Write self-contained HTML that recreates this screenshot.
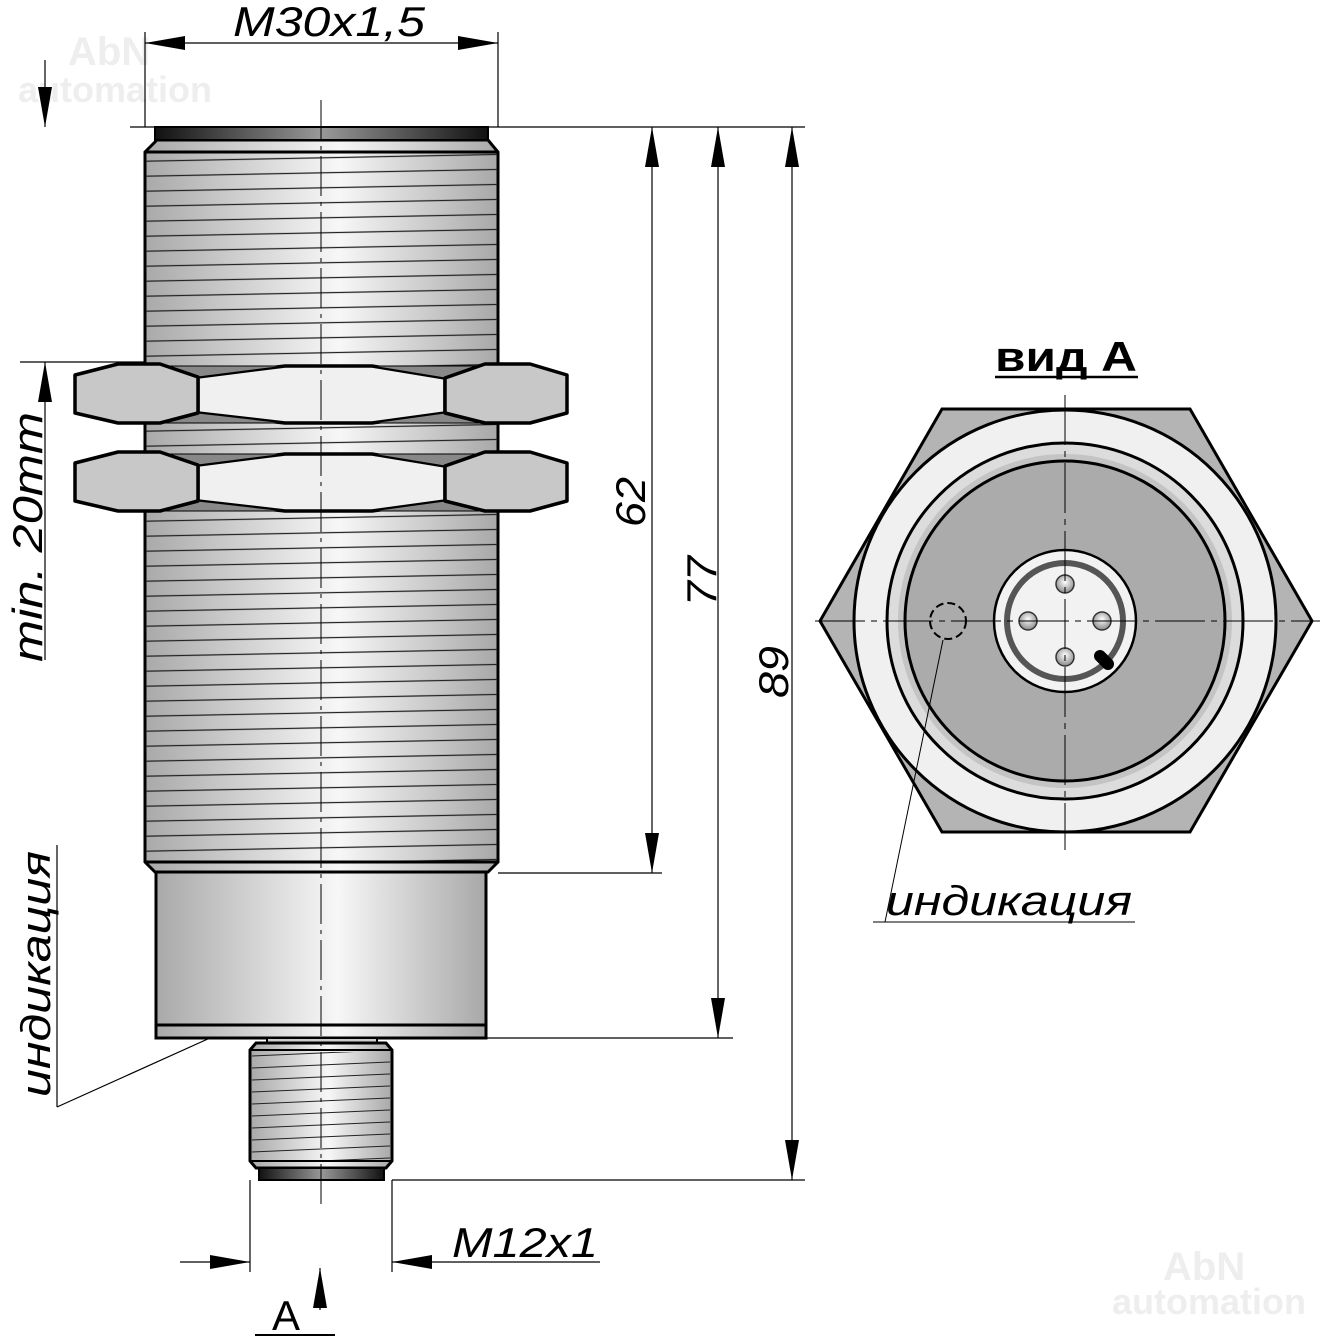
<!DOCTYPE html>
<html><head><meta charset="utf-8"><style>
html,body{margin:0;padding:0;background:#fff}
svg{display:block}
text{font-family:"Liberation Sans",sans-serif}
</style></head><body>
<svg width="1327" height="1339" viewBox="0 0 1327 1339" xmlns="http://www.w3.org/2000/svg">
<defs>
<linearGradient id="cyl" x1="0" x2="1" y1="0" y2="0">
<stop offset="0" stop-color="#a9a9a9"/><stop offset="0.55" stop-color="#f7f7f7"/><stop offset="1" stop-color="#a8a8a8"/>
</linearGradient>
<linearGradient id="cap" x1="0" x2="1">
<stop offset="0" stop-color="#111"/><stop offset="0.5" stop-color="#999"/><stop offset="1" stop-color="#111"/>
</linearGradient>
<pattern id="thr" width="400" height="15" patternUnits="userSpaceOnUse" patternTransform="skewY(-1.1)">
<line x1="0" y1="14" x2="400" y2="14" stroke="#222" stroke-width="1.2"/>
</pattern>
<pattern id="thr2" width="200" height="12" patternUnits="userSpaceOnUse" patternTransform="skewY(-2.5)">
<line x1="0" y1="11" x2="200" y2="11" stroke="#222" stroke-width="1.1"/>
</pattern>
<radialGradient id="pin" cx="0.5" cy="0.4" r="0.6"><stop offset="0" stop-color="#fff"/><stop offset="1" stop-color="#888"/></radialGradient>
<marker id="ar" viewBox="0 0 40 14" refX="40" refY="7" markerWidth="40" markerHeight="14" markerUnits="userSpaceOnUse" orient="auto-start-reverse"><path d="M0,0 L40,7 L0,14 z" fill="#000"/></marker>
</defs>

<g fill="#eeeeee" font-weight="bold">
<text x="68" y="65" font-size="40">AbN</text><text x="18" y="102" font-size="36">automation</text>
<text x="1163" y="1280" font-size="40">AbN</text><text x="1112" y="1314" font-size="36">automation</text>
</g>

<path d="M145,152 L157,140 L488,140 L498,152 L498,862 L488,872 L155,872 L145,862 Z" fill="url(#cyl)" stroke="#000" stroke-width="3"/>
<rect x="146" y="153" width="351" height="708" fill="url(#thr)"/>
<rect x="155" y="127" width="333" height="13" fill="url(#cap)" stroke="#000" stroke-width="2"/>
<line x1="145" y1="152" x2="498" y2="152" stroke="#000" stroke-width="3"/>
<line x1="145" y1="862" x2="498" y2="862" stroke="#000" stroke-width="3"/>

<g id="nut" stroke="#000" stroke-width="3.5" stroke-linejoin="round">
<path d="M198,377 L285,366 L372,366 L445,378 L445,413 L372,423 L285,423 L198,413 Z" fill="#f0f0f0"/>
<path d="M165,366 L198,377 L285,366 Z M165,423 L198,413 L285,423 Z M480,366 L445,378 L372,366 Z M480,423 L445,413 L372,423 Z" fill="#888" stroke-width="1"/>
<path d="M75,375 L118,364 L160,364 L198,377 L198,413 L160,423 L118,423 L75,413 Z" fill="#c8c8c8"/>
<path d="M445,378 L485,364 L530,364 L567,375 L567,413 L530,423 L485,423 L445,413 Z" fill="#c8c8c8"/>
</g>
<use href="#nut" y="88"/>

<rect x="156" y="872" width="330" height="166" fill="url(#cyl)" stroke="#000" stroke-width="3"/>
<line x1="156" y1="1025" x2="486" y2="1025" stroke="#000" stroke-width="3"/>

<rect x="267" y="1038" width="110" height="6" fill="#ccc" stroke="#000" stroke-width="2"/>
<path d="M250,1050 L256,1043 L386,1043 L392,1050 L392,1161 L386,1168 L256,1168 L250,1161 Z" fill="url(#cyl)" stroke="#000" stroke-width="3"/>
<rect x="252" y="1052" width="138" height="108" fill="url(#thr2)"/>
<line x1="250" y1="1050" x2="392" y2="1050" stroke="#000" stroke-width="2"/>
<line x1="250" y1="1161" x2="392" y2="1161" stroke="#000" stroke-width="2"/>
<rect x="259" y="1168" width="125" height="12" fill="url(#cap)" stroke="#000" stroke-width="2"/>

<line x1="321" y1="100" x2="321" y2="1205" stroke="#000" stroke-width="1" stroke-dasharray="40,6,4,6"/>

<g stroke="#000" stroke-width="1.2" fill="none">
<line x1="145" y1="32" x2="145" y2="127"/><line x1="498" y1="32" x2="498" y2="127"/>
<line x1="145" y1="43" x2="498" y2="43" marker-start="url(#ar)" marker-end="url(#ar)"/>
<line x1="130" y1="127" x2="805" y2="127"/>
<line x1="498" y1="873" x2="662" y2="873"/>
<line x1="486" y1="1038" x2="733" y2="1038"/>
<line x1="392" y1="1180" x2="805" y2="1180"/>
<line x1="652" y1="127" x2="652" y2="873" marker-start="url(#ar)" marker-end="url(#ar)"/>
<line x1="718" y1="127" x2="718" y2="1038" marker-start="url(#ar)" marker-end="url(#ar)"/>
<line x1="792" y1="127" x2="792" y2="1180" marker-start="url(#ar)" marker-end="url(#ar)"/>
<line x1="45" y1="60" x2="45" y2="127" marker-end="url(#ar)"/>
<line x1="20" y1="362" x2="145" y2="362"/>
<line x1="45" y1="660" x2="45" y2="362" marker-end="url(#ar)"/>
<line x1="57" y1="845" x2="57" y2="1107"/>
<line x1="57" y1="1107" x2="210" y2="1038"/>
<line x1="250" y1="1180" x2="250" y2="1272"/><line x1="392" y1="1180" x2="392" y2="1272"/>
<line x1="180" y1="1262" x2="250" y2="1262" marker-end="url(#ar)"/>
<line x1="600" y1="1262" x2="392" y2="1262" marker-end="url(#ar)"/>
<line x1="320" y1="1310" x2="320" y2="1268" marker-end="url(#ar)"/>
<line x1="255" y1="1335" x2="335" y2="1335" stroke-width="2"/>
</g>

<g font-style="italic" font-size="42" fill="#000">
<text x="233" y="36" textLength="192" lengthAdjust="spacingAndGlyphs">M30x1,5</text>
<text x="452" y="1257" textLength="146" lengthAdjust="spacingAndGlyphs">M12x1</text>
<text transform="translate(645,527) rotate(-90)" textLength="50" lengthAdjust="spacingAndGlyphs">62</text>
<text transform="translate(716,606) rotate(-90)" textLength="50" lengthAdjust="spacingAndGlyphs">77</text>
<text transform="translate(788,698) rotate(-90)" textLength="52" lengthAdjust="spacingAndGlyphs">89</text>
<text transform="translate(42,662) rotate(-90)" textLength="250" lengthAdjust="spacingAndGlyphs">min. 20mm</text>
<text transform="translate(50,1097) rotate(-90)" textLength="246" lengthAdjust="spacingAndGlyphs">индикация</text>
<text x="886" y="915" textLength="246" lengthAdjust="spacingAndGlyphs">индикация</text>
</g>
<text x="272" y="1330" font-size="42">A</text>

<text x="995" y="371" font-size="42" font-weight="bold" textLength="142" lengthAdjust="spacingAndGlyphs">вид А</text>
<line x1="995" y1="377" x2="1138" y2="377" stroke="#000" stroke-width="2.5"/>
<polygon points="942,409 1190,409 1312,621 1190,832 942,832 820,621" fill="#b4b4b4" stroke="#000" stroke-width="3"/>
<circle cx="1065" cy="621" r="211" fill="#f0f0f0" stroke="#000" stroke-width="3"/>
<circle cx="1065" cy="621" r="178" fill="#dcdcdc" stroke="#000" stroke-width="3"/>
<circle cx="1065" cy="621" r="167" fill="#c4c4c4"/>
<circle cx="1065" cy="621" r="160" fill="#ababab" stroke="#000" stroke-width="3"/>
<circle cx="1065" cy="621" r="71" fill="#f2f2f2" stroke="#000" stroke-width="2.5"/>
<circle cx="1065" cy="621" r="58" fill="none" stroke="#555" stroke-width="6"/>
<g fill="url(#pin)" stroke="#333" stroke-width="1.5">
<circle cx="1065" cy="584" r="9"/><circle cx="1065" cy="657" r="9"/>
<circle cx="1028" cy="621" r="9"/><circle cx="1102" cy="621" r="9"/>
</g>
<line x1="1100" y1="656" x2="1108" y2="664" stroke="#000" stroke-width="12" stroke-linecap="round"/>
<circle cx="948" cy="621" r="18" fill="none" stroke="#000" stroke-width="2" stroke-dasharray="8,4"/>
<g stroke="#000" stroke-width="1" fill="none">
<line x1="1065" y1="395" x2="1065" y2="850" stroke-dasharray="50,6,6,6"/>
<line x1="815" y1="621" x2="1320" y2="621" stroke-dasharray="50,6,6,6"/>
<line x1="943" y1="640" x2="885" y2="922"/>
<line x1="873" y1="922" x2="1135" y2="922"/>
</g>
</svg>
</body></html>
